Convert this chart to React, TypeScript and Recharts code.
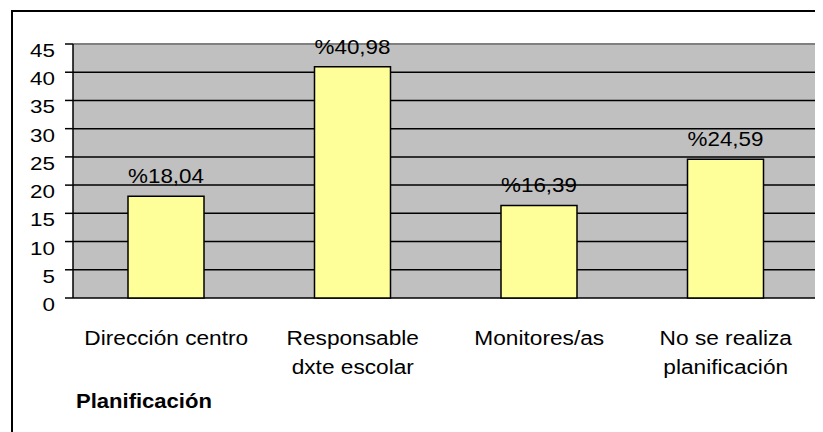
import React from 'react';
import {
  BarChart,
  Bar,
  XAxis,
  YAxis,
  CartesianGrid,
  ReferenceLine,
  LabelList,
} from 'recharts';

const categories = [
  'Dirección centro',
  'Responsable\ndxte escolar',
  'Monitores/as',
  'No se realiza\nplanificación',
];
const percentages = [18.04, 40.98, 16.39, 24.59];
const yTicks = [0, 5, 10, 15, 20, 25, 30, 35, 40, 45];
const edgeTicks = [0, 1, 2, 3, 4];
const axisTitle = 'Planificación';

const data = categories.map((name, i) => ({ name, value: percentages[i] }));

const FONT = '"Liberation Sans", Arial, sans-serif';

// Text stretched horizontally like the original picture
const Stretched = ({ x, y, sx, size, anchor = 'middle', bold = false, children }: any) => (
  <text
    transform={`translate(${x} ${y}) scale(${sx} 1)`}
    textAnchor={anchor}
    fontSize={size}
    fontFamily={FONT}
    fontWeight={bold ? 'bold' : 'normal'}
    fill='#000'
  >
    {children}
  </text>
);

const EmptyTick = () => <g />;

const YTick = (props: any) => {
  const { x, y, payload } = props;
  return (
    <Stretched x={x} y={y + 13} sx={1.18} size={19} anchor='end'>
      {payload.value}
    </Stretched>
  );
};

const XTick = (props: any) => {
  const { x, y, payload } = props;
  const lines = String(payload.value).split('\n');
  return (
    <g>
      {lines.map((line, i) => (
        <Stretched key={i} x={x} y={y + 47 + i * 29} sx={1.08} size={21}>
          {line}
        </Stretched>
      ))}
    </g>
  );
};

const ValueLabel = (props: any) => {
  const { x, y, width, value } = props;
  const text = '%' + Number(value).toFixed(2).replace('.', ',');
  return (
    <Stretched x={x + width / 2} y={y - 13} sx={1.12} size={20}>
      {text}
    </Stretched>
  );
};

const TitleLabel = (props: any) => {
  const { viewBox } = props;
  return (
    <Stretched x={viewBox.x + 3} y={viewBox.y + 110} sx={1.05} size={21} anchor='start' bold>
      {axisTitle}
    </Stretched>
  );
};

export default function App() {
  return (
    <div style={{ position: 'relative', width: 815, height: 424, overflow: 'hidden' }}>
      <div
        style={{
          position: 'absolute',
          left: 3,
          top: 2,
          width: 1000,
          height: 1000,
          border: '2px solid #000',
        }}
      />
      <div style={{ position: 'absolute', left: 0, top: 0 }}>
        <BarChart
          width={815}
          height={424}
          data={data}
          margin={{ top: 36, right: 4, left: 0, bottom: 0 }}
        >
          <CartesianGrid
            xAxisId='cat'
            yAxisId='v'
            vertical={false}
            stroke='#000'
            strokeWidth={1.5}
            fill='#c0c0c0'
          />
          <XAxis
            xAxisId='edges'
            type='number'
            domain={[0, 4]}
            ticks={edgeTicks}
            allowDataOverflow
            height={0}
            tick={<EmptyTick />}
            tickSize={8}
            tickLine={{ stroke: '#000', strokeWidth: 1.5 }}
            axisLine={{ stroke: '#000', strokeWidth: 1.5 }}
            interval={0}
          />
          <XAxis
            xAxisId='cat'
            dataKey='name'
            height={134}
            axisLine={false}
            tickLine={false}
            tickSize={0}
            tickMargin={0}
            interval={0}
            tick={<XTick />}
            label={<TitleLabel />}
          />
          <YAxis
            yAxisId='v'
            domain={[0, 45]}
            ticks={yTicks}
            width={65}
            tickSize={8}
            tickMargin={10}
            tick={<YTick />}
            tickLine={{ stroke: '#000', strokeWidth: 1.5 }}
            axisLine={{ stroke: '#000', strokeWidth: 1.5 }}
            interval={0}
          />
          <YAxis
            yAxisId='r'
            orientation='right'
            domain={[0, 45]}
            width={0}
            tick={false}
            tickLine={false}
            axisLine={{ stroke: '#808080', strokeWidth: 2 }}
          />
          <ReferenceLine xAxisId='cat' yAxisId='v' y={45} stroke='#808080' strokeWidth={2} />
          <Bar
            xAxisId='cat'
            yAxisId='v'
            dataKey='value'
            barSize={76}
            fill='#ffff99'
            stroke='#000'
            strokeWidth={1.5}
            isAnimationActive={false}
          >
            <LabelList dataKey='value' content={<ValueLabel />} />
          </Bar>
        </BarChart>
      </div>
    </div>
  );
}
